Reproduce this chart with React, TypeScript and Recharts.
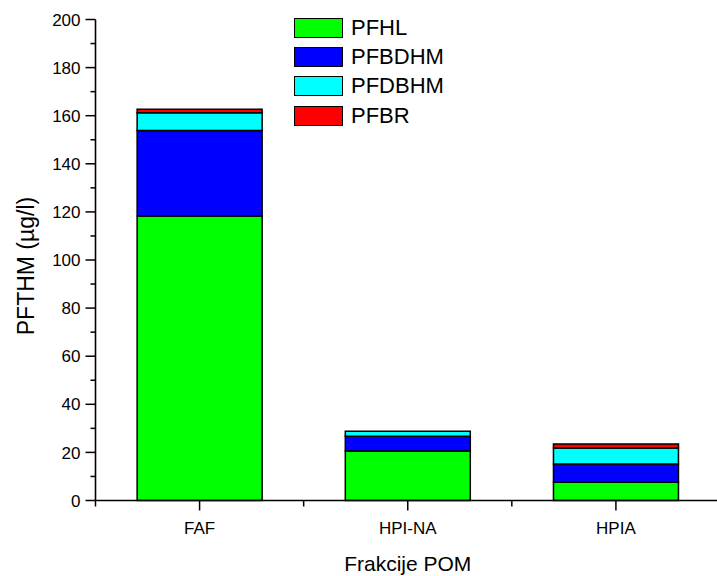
import { BarChart, Bar, XAxis, YAxis, Legend } from 'recharts';

const categories = ['FAF', 'HPI-NA', 'HPIA'];
const pfhl = [118.3, 20.6, 7.6];
const pfbdhm = [35.5, 6.1, 7.6];
const pfdbhm = [7.4, 2.1, 6.6];
const pfbr = [1.5, 0, 1.7];
const yTicks = [0, 10, 20, 30, 40, 50, 60, 70, 80, 90, 100, 110, 120, 130, 140, 150, 160, 170, 180, 190, 200];

const SERIES = [
  { key: 'PFHL', color: '#00FF00' },
  { key: 'PFBDHM', color: '#0000FF' },
  { key: 'PFDBHM', color: '#00FFFF' },
  { key: 'PFBR', color: '#FF0000' },
];

const data = categories.map((name, i) => ({
  name,
  PFHL: pfhl[i],
  PFBDHM: pfbdhm[i],
  PFDBHM: pfdbhm[i],
  PFBR: pfbr[i],
}));

const FONT = 'Arial, "Liberation Sans", sans-serif';
const CHART_W = 720;
const CHART_H = 576;
const Y_AXIS_W = 95.5;
const BAND = (CHART_W - Y_AXIS_W) / categories.length;

const YTick = (props: any) => {
  const { x, y, payload } = props;
  const major = payload.value % 20 === 0;
  return (
    <g>
      <line x1={x - (major ? 10 : 5)} x2={x} y1={y} y2={y} stroke="#000" strokeWidth={1.5} />
      {major && (
        <text x={x - 15} y={y} dy="0.36em" textAnchor="end" fontSize={17} fontFamily={FONT} fill="#000">
          {payload.value}
        </text>
      )}
    </g>
  );
};

const XTick = (props: any) => {
  const { x, y, payload } = props;
  return (
    <g>
      <line x1={x} x2={x} y1={y} y2={y + 10} stroke="#000" strokeWidth={1.5} />
      <line x1={x - BAND / 2} x2={x - BAND / 2} y1={y} y2={y + 6} stroke="#000" strokeWidth={1.5} />
      <text x={x} y={y + 33} textAnchor="middle" fontSize={17} fontFamily={FONT} fill="#000">
        {payload.value}
      </text>
    </g>
  );
};

const LegendBox = () => (
  <div style={{ fontFamily: FONT }}>
    {SERIES.map((s) => (
      <div key={s.key} style={{ display: 'flex', alignItems: 'center', height: 29.3 }}>
        <div
          style={{
            width: 47,
            height: 18,
            background: s.color,
            border: '1.5px solid #000',
          }}
        />
        <span style={{ fontSize: 22, marginLeft: 8, color: '#000', lineHeight: 1 }}>{s.key}</span>
      </div>
    ))}
  </div>
);

export default function App() {
  return (
    <div style={{ position: 'absolute', left: 0, top: 0, width: 717, height: 576, overflow: 'hidden', background: '#fff' }}>
      <BarChart
        width={CHART_W}
        height={CHART_H}
        data={data}
        margin={{ top: 19.5, right: 0, left: 0, bottom: 0 }}
        barCategoryGap="20%"
      >
        <XAxis
          dataKey="name"
          height={75.5}
          tick={<XTick />}
          tickLine={false}
          tickSize={0}
          tickMargin={0}
          axisLine={{ stroke: '#000', strokeWidth: 1.6 }}
          label={{ value: 'Frakcije POM', position: 'insideBottom', offset: 5, style: { fontSize: 21, fill: '#000', fontFamily: FONT } }}
        />
        <YAxis
          width={Y_AXIS_W}
          domain={[0, 200]}
          ticks={yTicks}
          interval={0}
          tick={<YTick />}
          tickLine={false}
          tickSize={0}
          tickMargin={0}
          axisLine={{ stroke: '#000', strokeWidth: 1.6 }}
          label={{ value: 'PFTHM (µg/l)', angle: -90, position: 'center', dx: -22, dy: 6, style: { fontSize: 23, fill: '#000', fontFamily: FONT } }}
        />
        <Legend
          layout="vertical"
          align="center"
          verticalAlign="middle"
          content={<LegendBox />}
          wrapperStyle={{ position: 'absolute', left: 294, top: 13, width: 'auto' }}
        />
        {SERIES.map((s) => (
          <Bar
            key={s.key}
            dataKey={s.key}
            stackId="a"
            fill={s.color}
            stroke="#000"
            strokeWidth={1.5}
            isAnimationActive={false}
          />
        ))}
      </BarChart>
    </div>
  );
}
